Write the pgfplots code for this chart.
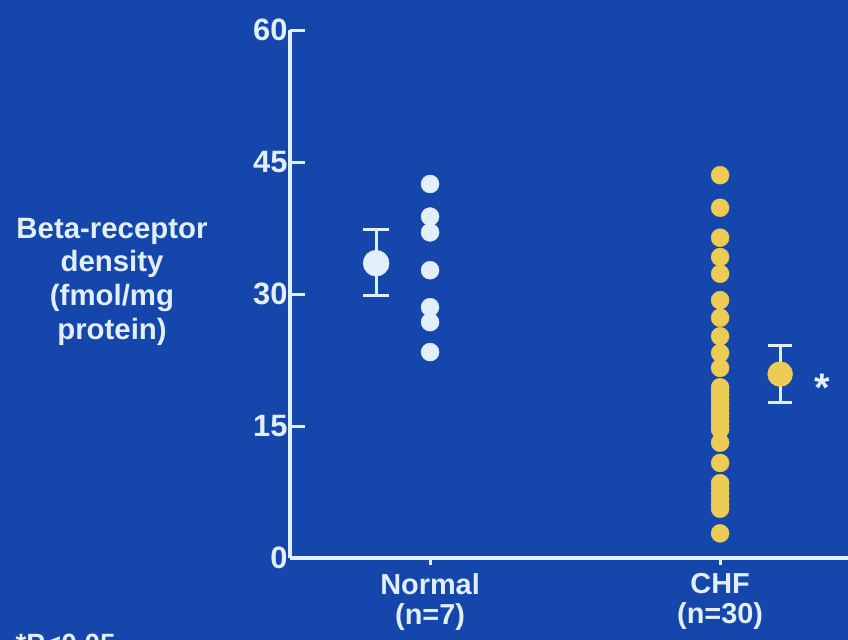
\documentclass[border=0pt]{standalone}
\usepackage{pgfplots}
\pgfplotsset{compat=1.18}
\usepackage{fontspec}
\setmainfont{Liberation Sans}
\definecolor{bg}{RGB}{20,70,172}
\definecolor{fg}{RGB}{226,238,248}
\definecolor{dot}{RGB}{236,204,84}
\begin{document}
\begin{tikzpicture}
\path[use as bounding box] (0bp,0bp) rectangle (848bp,640bp);
\clip (0bp,0bp) rectangle (848bp,640bp);
\fill[bg] (0bp,0bp) rectangle (848bp,640bp);
\begin{axis}[
  at={(290bp,82bp)}, anchor=south west,
  scale only axis, width=558bp, height=528bp,
  xmin=0.517, xmax=2.441, ymin=0, ymax=60,
  axis x line=bottom, axis y line=left,
  axis line style={fg, line width=3.2bp, -},
  ytick={0,15,30,45,60},
  xtick={1,2}, xticklabels={Normal\\(n=7),CHF\\(n=30)},
  tick style={fg, line width=3bp},
  major tick length=15bp,
  ytick align=inside, xtick align=outside,
  x tick style={/pgfplots/major tick length=7bp},
  /pgf/number format/assume math mode=true,
  tick label style={text=fg},
  yticklabel style={font=\bfseries\fontsize{31}{31}\selectfont, xshift=1bp},
  xticklabel style={font=\bfseries\fontsize{29}{30}\selectfont, align=center, yshift=3bp},
  ylabel={Beta-receptor\\density\\(fmol/mg\\protein)},
  ylabel style={rotate=-90, anchor=center, align=center, text=fg,
    font=\bfseries\fontsize{29.5}{34}\selectfont,
    at={(axis description cs:-0.319,0.523)}},
  clip=false,
]
% Normal individual values
\addplot[fg, only marks, mark=*, mark size=9bp, mark options={fill=fg, draw=fg}]
  coordinates {(1,42.5)(1,38.8)(1,37.0)(1,32.7)(1,28.5)(1,26.8)(1,23.4)};
% CHF individual values
\addplot[dot, only marks, mark=*, mark size=9bp, mark options={fill=dot, draw=dot}]
  coordinates {(2,43.5)(2,39.8)(2,36.4)(2,34.2)(2,32.3)(2,29.3)(2,27.3)(2,25.2)
  (2,23.3)(2,21.6)(2,19.4)(2,19.0)(2,18.5)(2,18.0)(2,17.5)(2,17.0)(2,16.5)
  (2,16.0)(2,15.5)(2,15.0)(2,14.6)(2,13.1)(2,10.8)(2,8.5)(2,7.9)(2,7.3)
  (2,6.7)(2,6.1)(2,5.6)(2,2.8)};
% Normal mean +- error
\addplot[fg, line width=3bp, mark=-, mark size=13bp, mark options={line width=3bp}]
  coordinates {(0.814,29.8)(0.814,37.3)};
\addplot[fg, only marks, mark=*, mark size=13bp, mark options={fill=fg, draw=fg}]
  coordinates {(0.814,33.5)};
% CHF mean +- error
\addplot[fg, line width=3bp, mark=-, mark size=12bp, mark options={line width=3bp}]
  coordinates {(2.207,17.7)(2.207,24.1)};
\addplot[dot, only marks, mark=*, mark size=12.5bp, mark options={fill=dot, draw=dot}]
  coordinates {(2.207,20.9)};
\node[text=fg, font=\bfseries\fontsize{40}{40}\selectfont, inner sep=0pt] at (axis cs:2.352,19.3) {*};
\end{axis}
\node[text=fg, font=\bfseries\fontsize{28}{28}\selectfont, anchor=base west] at (12bp,-13bp) {*P<0.05};
\end{tikzpicture}
\end{document}
